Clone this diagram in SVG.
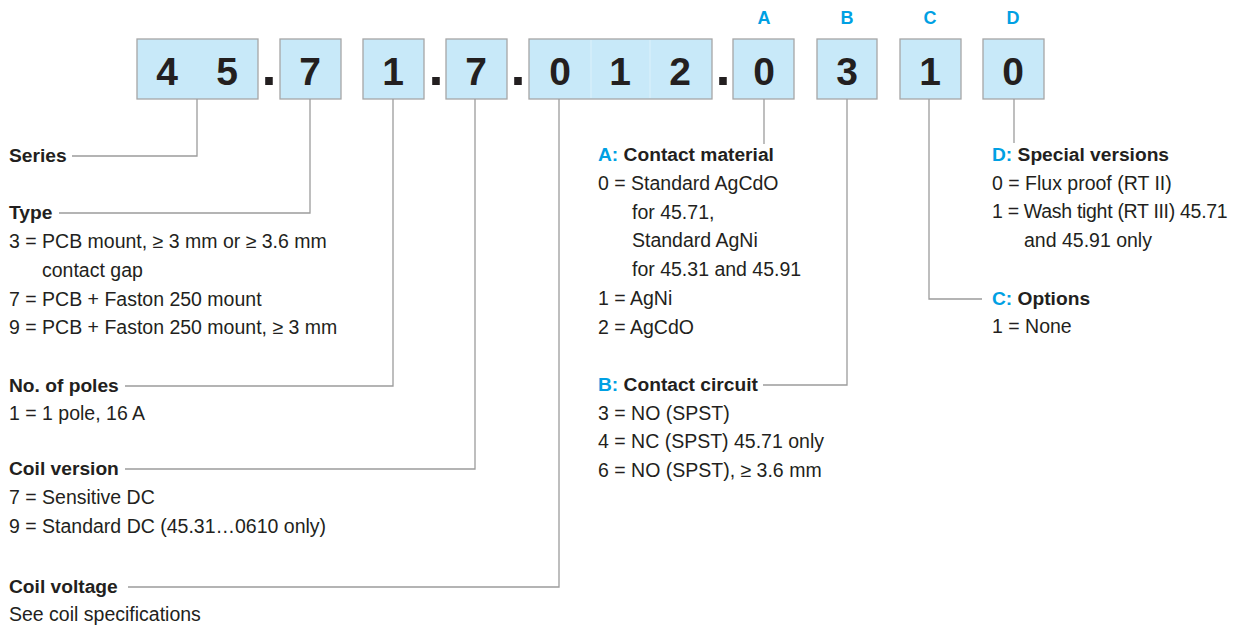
<svg xmlns="http://www.w3.org/2000/svg" width="1235" height="628" viewBox="0 0 1235 628">
<style>
.box{fill:#c8e9f9;stroke:#a6a6a6;stroke-width:1.3}
.div{stroke:#dcf1fb;stroke-width:1}
.dig{font-family:"Liberation Sans",Arial,sans-serif;font-weight:bold;font-size:39px;fill:#231f20;text-anchor:middle}
.dot{font-family:"Liberation Sans",Arial,sans-serif;font-weight:bold;font-size:54px;fill:#231f20;text-anchor:middle}
.let{font-family:"Liberation Sans",Arial,sans-serif;font-weight:bold;font-size:18px;fill:#00a0e3;text-anchor:middle}
.t{font-family:"Liberation Sans",Arial,sans-serif;font-size:19.5px;fill:#231f20}
.b{font-weight:bold;font-size:19.2px}
.bl{fill:#00a0e3;font-weight:bold}
.con{fill:none;stroke:#9c9c9c;stroke-width:1.3}
</style>
<rect width="1235" height="628" fill="#ffffff"/>

<g id="code">
  <g id="box-series"><rect class="box" x="137" y="39" width="121" height="60"/><text class="dig" x="167" y="85">4</text><text class="dig" x="227" y="85">5</text></g>
  <text class="dot" x="269" y="85">.</text>
  <g id="box-type"><rect class="box" x="280" y="39" width="61" height="60"/><text class="dig" x="310" y="85">7</text></g>
  <g id="box-poles"><rect class="box" x="363" y="39" width="61" height="60"/><text class="dig" x="393" y="85">1</text></g>
  <text class="dot" x="436" y="85">.</text>
  <g id="box-coilversion"><rect class="box" x="446" y="39" width="61" height="60"/><text class="dig" x="476" y="85">7</text></g>
  <text class="dot" x="518" y="85">.</text>
  <g id="box-coilvoltage"><rect class="box" x="529" y="39" width="183" height="60"/><line class="div" x1="591" y1="40" x2="591" y2="98"/><line class="div" x1="650" y1="40" x2="650" y2="98"/><text class="dig" x="560" y="85">0</text><text class="dig" x="620" y="85">1</text><text class="dig" x="680" y="85">2</text></g>
  <text class="dot" x="723" y="85">.</text>
  <g id="box-A"><text class="let" x="764" y="24">A</text><rect class="box" x="733" y="39" width="61" height="60"/><text class="dig" x="764" y="85">0</text></g>
  <g id="box-B"><text class="let" x="847" y="24">B</text><rect class="box" x="817" y="39" width="60" height="60"/><text class="dig" x="847" y="85">3</text></g>
  <g id="box-C"><text class="let" x="930" y="24">C</text><rect class="box" x="900" y="39" width="61" height="60"/><text class="dig" x="930" y="85">1</text></g>
  <g id="box-D"><text class="let" x="1013" y="24">D</text><rect class="box" x="983" y="39" width="61" height="60"/><text class="dig" x="1013" y="85">0</text></g>
</g>

<g id="connectors">
  <polyline class="con" points="197,99 197,156 72,156"/>
  <polyline class="con" points="310,99 310,213 59,213"/>
  <polyline class="con" points="393,99 393,386 125,386"/>
  <polyline class="con" points="475,99 475,469 125,469"/>
  <polyline class="con" points="559,99 559,587 128,587"/>
  <polyline class="con" points="764,99 764,144"/>
  <polyline class="con" points="847,99 847,385 763,385"/>
  <polyline class="con" points="929,99 929,299 982,299"/>
  <polyline class="con" points="1014,99 1014,143"/>
</g>

<g id="label-series"><text class="t b" x="9" y="162">Series</text></g>
<g id="label-type">
  <text class="t b" x="9" y="219">Type</text>
  <text class="t" x="9" y="248">3 = PCB mount, ≥ 3 mm or ≥ 3.6 mm</text>
  <text class="t" x="42" y="277">contact gap</text>
  <text class="t" x="9" y="306">7 = PCB + Faston 250 mount</text>
  <text class="t" x="9" y="334">9 = PCB + Faston 250 mount, ≥ 3 mm</text>
</g>
<g id="label-poles">
  <text class="t b" x="9" y="392">No. of poles</text>
  <text class="t" x="9" y="420">1 = 1 pole, 16 A</text>
</g>
<g id="label-coilversion">
  <text class="t b" x="9" y="475">Coil version</text>
  <text class="t" x="9" y="504">7 = Sensitive DC</text>
  <text class="t" x="9" y="533">9 = Standard DC (45.31…0610 only)</text>
</g>
<g id="label-coilvoltage">
  <text class="t b" x="9" y="593">Coil voltage</text>
  <text class="t" x="9" y="621">See coil specifications</text>
</g>
<g id="label-A">
  <text class="t b" x="598" y="161"><tspan class="bl">A:</tspan> Contact material</text>
  <text class="t" x="598" y="190">0 = Standard AgCdO</text>
  <text class="t" x="632" y="219">for 45.71,</text>
  <text class="t" x="632" y="247">Standard AgNi</text>
  <text class="t" x="632" y="276">for 45.31 and 45.91</text>
  <text class="t" x="598" y="305">1 = AgNi</text>
  <text class="t" x="598" y="334">2 = AgCdO</text>
</g>
<g id="label-B">
  <text class="t b" x="598" y="391"><tspan class="bl">B:</tspan> Contact circuit</text>
  <text class="t" x="598" y="420">3 = NO (SPST)</text>
  <text class="t" x="598" y="448">4 = NC (SPST) 45.71 only</text>
  <text class="t" x="598" y="477">6 = NO (SPST), ≥ 3.6 mm</text>
</g>
<g id="label-D">
  <text class="t b" x="992" y="161"><tspan class="bl">D:</tspan> Special versions</text>
  <text class="t" x="992" y="190">0 = Flux proof (RT II)</text>
  <text class="t" x="992" y="218" letter-spacing="-0.3">1 = Wash tight (RT III) 45.71</text>
  <text class="t" x="1024" y="247">and 45.91 only</text>
</g>
<g id="label-C">
  <text class="t b" x="992" y="305"><tspan class="bl">C:</tspan> Options</text>
  <text class="t" x="992" y="333">1 = None</text>
</g>
</svg>
